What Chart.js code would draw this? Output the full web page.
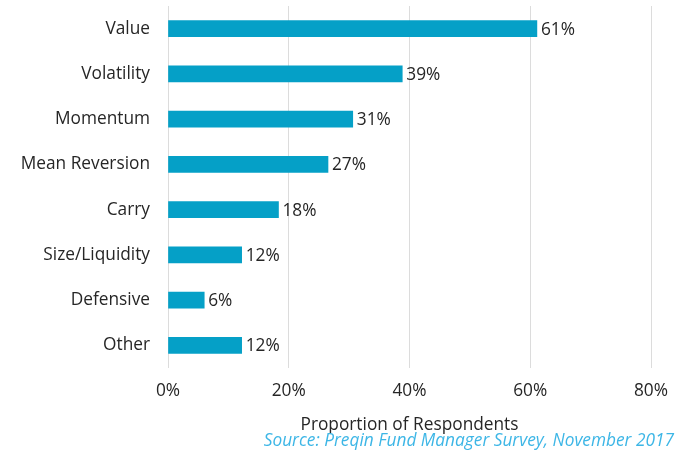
<!DOCTYPE html>
<html>
<head>
<meta charset="utf-8">
<script src="https://cdn.jsdelivr.net/npm/chart.js@4"></script>
<style>
  html, body { margin: 0; padding: 0; background: #fff; }
  #wrap { position: relative; width: 688px; height: 455px; }
  #source {
    position: absolute; right: 14px; top: 430px;
    font: italic 17.3px "Open Sans", sans-serif; line-height: 20px;
    color: #3db6e6; white-space: nowrap;
  }
</style>
</head>
<body>
<div id="wrap">
  <canvas id="factorChart" width="688" height="455"></canvas>
  <div id="source">Source: Preqin Fund Manager Survey, November 2017</div>
</div>
<script>
// factor usage, % of respondents (bar lengths, labels as printed)
const factors = ['Value', 'Volatility', 'Momentum', 'Mean Reversion', 'Carry', 'Size/Liquidity', 'Defensive', 'Other'];
const shares = [61.1, 38.8, 30.6, 26.5, 18.3, 12.2, 6.0, 12.2];
const shareLabels = ['61%', '39%', '31%', '27%', '18%', '12%', '6%', '12%'];
const xTicks = [0, 20, 40, 60, 80];

const textColor = '#262626';
const fontFamily = '"Open Sans", sans-serif';
const fontSize = 17.3;

// draws "61%" etc just past the end of each bar
const barLabels = {
  id: 'barLabels',
  afterDatasetsDraw(chart) {
    const ctx = chart.ctx;
    const meta = chart.getDatasetMeta(0);
    ctx.save();
    ctx.font = fontSize + 'px ' + fontFamily;
    ctx.fillStyle = textColor;
    ctx.textAlign = 'left';
    ctx.textBaseline = 'middle';
    meta.data.forEach((bar, i) => {
      ctx.fillText(shareLabels[i], bar.x + 4, bar.y + 1);
    });
    ctx.restore();
  }
};

const ctx = document.getElementById('factorChart').getContext('2d');
new Chart(ctx, {
  type: 'bar',
  data: {
    labels: factors,
    datasets: [{
      data: shares,
      backgroundColor: '#05a0c7',
      borderWidth: 0,
      barThickness: 16
    }]
  },
  options: {
    indexAxis: 'y',
    responsive: false,
    animation: false,
    layout: { padding: { top: 0, right: 37, left: 0, bottom: 0 } },
    plugins: {
      legend: { display: false },
      tooltip: { enabled: false }
    },
    scales: {
      x: {
        min: 0,
        max: 80,
        afterBuildTicks: (scale) => { scale.ticks = xTicks.map(v => ({ value: v })); },
        afterFit: (scale) => { scale.height = 87; },
        grid: { color: '#dcdcdc', lineWidth: 1, drawTicks: false },
        border: { display: false },
        ticks: {
          padding: 13,
          color: textColor,
          font: { family: fontFamily, size: fontSize },
          callback: (v) => v + '%'
        },
        title: {
          display: true,
          text: 'Proportion of Respondents',
          color: textColor,
          font: { family: fontFamily, size: fontSize },
          padding: { top: 4, bottom: 20 }
        }
      },
      y: {
        afterFit: (scale) => {
          scale.width = 168;
          scale.paddingTop = 6;
          scale.paddingBottom = 0;
        },
        grid: { display: false, drawTicks: false },
        border: { display: false },
        ticks: {
          padding: 18,
          color: textColor,
          font: { family: fontFamily, size: fontSize }
        }
      }
    }
  },
  plugins: [barLabels]
});
</script>
</body>
</html>
